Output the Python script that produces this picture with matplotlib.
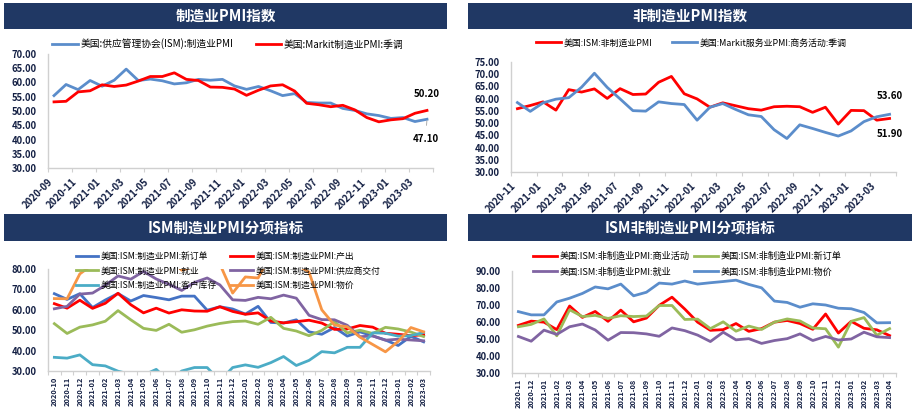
import matplotlib
matplotlib.use('Agg')
import matplotlib.pyplot as plt
from matplotlib.patches import Rectangle

plt.rcParams['font.family'] = ['Noto Sans CJK SC', 'DejaVu Sans']

# ---------------- data ----------------
# Panel 1: manufacturing PMI, 2020-09 .. 2023-04
p1_ticklabels = ['2020-09', '2020-11', '2021-01', '2021-03', '2021-05', '2021-07', '2021-09', '2021-11',
                 '2022-01', '2022-03', '2022-05', '2022-07', '2022-09', '2022-11', '2023-01', '2023-03']
ism_mfg = [55.4, 59.3, 57.5, 60.7, 58.7, 60.8, 64.7, 60.7, 61.2, 60.6, 59.5, 59.9, 61.1, 60.8, 61.1, 58.8,
           57.6, 58.6, 57.1, 55.4, 56.1, 53.0, 52.8, 52.8, 50.9, 50.2, 49.0, 48.4, 47.4, 47.7, 46.3, 47.1]
markit_mfg = [53.2, 53.4, 56.7, 57.1, 59.2, 58.6, 59.1, 60.5, 62.1, 62.1, 63.4, 61.1, 60.7, 58.4, 58.3, 57.7,
              55.5, 57.3, 58.8, 59.2, 57.0, 52.7, 52.2, 51.5, 52.0, 50.4, 47.7, 46.2, 46.9, 47.3, 49.2, 50.2]

# Panel 2: non-manufacturing PMI, 2020-11 .. 2023-04
p2_ticklabels = ['2020-11', '2021-01', '2021-03', '2021-05', '2021-07', '2021-09', '2021-11', '2022-01',
                 '2022-03', '2022-05', '2022-07', '2022-09', '2022-11', '2023-01', '2023-03']
ism_nonmfg = [55.9, 57.2, 58.7, 55.3, 63.7, 62.7, 64.0, 60.1, 64.1, 61.7, 61.9, 66.7, 69.1, 62.0, 59.9,
              56.5, 58.3, 57.1, 55.9, 55.3, 56.7, 56.9, 56.7, 54.4, 56.5, 49.6, 55.2, 55.1, 51.2, 51.9]
markit_svc = [58.4, 54.8, 58.3, 59.8, 60.4, 64.7, 70.4, 64.6, 59.9, 55.1, 54.9, 58.7, 58.0, 57.6, 51.2,
              56.5, 58.0, 55.6, 53.4, 52.7, 47.3, 43.7, 49.3, 47.8, 46.2, 44.7, 46.8, 50.6, 52.6, 53.6]

# Panel 3: ISM manufacturing sub-indices, 2020-10 .. 2023-03
p3_categories = ['2020-10', '2020-11', '2020-12', '2021-01', '2021-02', '2021-03', '2021-04', '2021-05',
                 '2021-06', '2021-07', '2021-08', '2021-09', '2021-10', '2021-11', '2021-12', '2022-01',
                 '2022-02', '2022-03', '2022-04', '2022-05', '2022-06', '2022-07', '2022-08', '2022-09',
                 '2022-10', '2022-11', '2022-12', '2023-01', '2023-02', '2023-03']
mfg_new_orders = [67.9, 65.1, 67.9, 61.1, 64.8, 68.0, 64.3, 67.0, 66.0, 64.9, 66.7, 66.7, 59.8, 61.5, 60.4,
                  57.9, 61.7, 53.8, 53.5, 55.1, 49.2, 48.0, 51.3, 47.1, 49.2, 47.2, 45.2, 42.5, 47.0, 44.3]
mfg_production = [63.0, 60.8, 64.7, 60.7, 63.2, 68.1, 62.5, 58.5, 60.8, 58.4, 60.0, 59.4, 59.3, 61.5, 59.2,
                  57.8, 58.5, 54.5, 53.6, 54.2, 54.9, 53.5, 50.4, 50.6, 52.3, 51.5, 48.5, 48.0, 47.3, 47.8]
mfg_employment = [53.2, 48.4, 51.5, 52.6, 54.4, 59.6, 55.1, 50.9, 49.9, 52.9, 49.0, 50.2, 52.0, 53.3, 54.2,
                  54.5, 52.9, 56.3, 50.9, 49.6, 47.3, 49.9, 54.2, 48.7, 50.0, 48.4, 51.4, 50.6, 49.1, 46.9]
mfg_supplier = [60.5, 61.7, 67.7, 68.2, 72.0, 76.6, 75.0, 78.8, 75.1, 72.5, 69.5, 73.4, 75.6, 72.2, 64.9,
                64.6, 66.1, 65.4, 67.2, 65.7, 57.3, 55.2, 55.1, 52.4, 46.8, 47.2, 45.1, 45.6, 45.2, 44.8]
mfg_cust_inv = [36.7, 36.3, 37.9, 33.1, 32.5, 29.9, 28.4, 28.0, 30.8, 25.0, 30.0, 31.7, 31.7, 25.1, 31.7,
                33.0, 31.8, 34.1, 37.1, 32.7, 35.2, 39.5, 38.9, 41.6, 41.6, 48.7, 48.5, 47.1, 47.3, 48.9]
mfg_prices = [65.5, 65.4, 77.6, 82.1, 86.0, 85.6, 89.6, 88.0, 92.1, 85.7, 79.4, 81.2, 85.7, 82.4, 68.2,
              76.1, 75.6, 87.1, 84.6, 82.2, 78.5, 60.0, 52.5, 51.7, 46.6, 43.0, 39.4, 44.5, 51.3, 49.2]

# Panel 4: ISM non-manufacturing sub-indices, 2020-11 .. 2023-04
p4_categories = ['2020-11', '2020-12', '2021-01', '2021-02', '2021-03', '2021-04', '2021-05', '2021-06',
                 '2021-07', '2021-08', '2021-09', '2021-10', '2021-11', '2021-12', '2022-01', '2022-02',
                 '2022-03', '2022-04', '2022-05', '2022-06', '2022-07', '2022-08', '2022-09', '2022-10',
                 '2022-11', '2022-12', '2023-01', '2023-02', '2023-03', '2023-04']
svc_activity = [58.0, 60.5, 59.9, 55.5, 69.4, 62.7, 66.2, 60.4, 67.0, 60.1, 62.3, 69.8, 74.6, 67.6, 59.9,
                55.1, 55.5, 59.1, 54.5, 56.1, 59.9, 60.9, 59.1, 55.7, 64.7, 53.5, 60.4, 56.3, 55.4, 52.0]
svc_new_orders = [57.2, 58.6, 61.8, 51.9, 67.2, 63.2, 63.9, 62.1, 63.7, 63.2, 63.5, 69.7, 69.7, 61.5, 61.7,
                  56.1, 60.1, 54.6, 57.6, 55.6, 59.9, 61.8, 60.6, 56.5, 56.0, 45.2, 60.4, 62.6, 52.2, 56.1]
svc_employment = [51.5, 48.7, 55.2, 52.7, 57.2, 58.8, 55.3, 49.3, 53.8, 53.7, 53.0, 51.6, 56.5, 54.9, 52.3,
                  48.5, 54.0, 49.5, 50.2, 47.4, 49.1, 50.2, 53.0, 49.1, 51.5, 49.4, 50.0, 54.0, 51.3, 50.8]
svc_prices = [66.1, 64.2, 64.2, 71.8, 74.0, 76.8, 80.6, 79.5, 82.3, 75.4, 77.5, 82.9, 82.3, 84.1, 82.3,
              83.1, 83.8, 84.6, 82.1, 80.1, 72.3, 71.5, 68.7, 70.7, 70.0, 68.1, 67.8, 65.6, 59.5, 59.6]

# ---------------- style ----------------
W, H = 916, 411
NAVY = '#203864'
TXT = '#142044'
AXC = '#D0D0D0'
BLUE_L = '#5B8DCB'
RED = '#FF0000'
BLUE_D = '#4472C4'
GREEN = '#9BBB59'
PURPLE = '#8064A2'
TEAL = '#4BACC6'
ORANGE = '#F79646'
LW = 2.0

fig = plt.figure(figsize=(W / 100, H / 100), dpi=100)


def rect(x0, y0, x1, y1):
    return [x0 / W, 1 - y1 / H, (x1 - x0) / W, (y1 - y0) / H]


def title_bar(x0, y0, x1, y1, text):
    fig.add_artist(Rectangle((x0 / W, 1 - y1 / H), (x1 - x0) / W, (y1 - y0) / H,
                             transform=fig.transFigure, facecolor=NAVY, edgecolor='none'))
    fig.text((x0 + x1) / 2 / W, 1 - (y0 + y1) / 2 / H, text, color='white', fontsize=10.5,
             fontweight='bold', ha='center', va='center')


def style_axes(ax, ylo, yhi, ystep):
    for s in ['top', 'right']:
        ax.spines[s].set_visible(False)
    for s in ['left', 'bottom']:
        ax.spines[s].set_color(AXC)
        ax.spines[s].set_linewidth(1.0)
    ax.set_ylim(ylo, yhi)
    yt = list(range(ylo, yhi + 1, ystep))
    ax.set_yticks(yt)
    ax.set_yticklabels(['%.2f' % v for v in yt], fontsize=6.8, fontweight='bold', color=TXT)
    ax.tick_params(axis='y', length=0, pad=8)
    ax.tick_params(axis='x', length=3, color=AXC, direction='out')
    ax.patch.set_alpha(0)


# ---------- Panel 1 ----------
title_bar(4, 3, 447, 29, '制造业PMI指数')
ax1 = fig.add_axes(rect(48, 54, 433, 168))
n1 = len(ism_mfg)
x1 = [i + 0.5 for i in range(n1)]
l1, = ax1.plot(x1, ism_mfg, color=BLUE_L, lw=LW, solid_joinstyle='round')
l2, = ax1.plot(x1, markit_mfg, color=RED, lw=LW, solid_joinstyle='round')
style_axes(ax1, 30, 70, 5)
ax1.set_xlim(0, n1)
ax1.set_xticks(range(0, n1 + 1, 2))
ax1.set_xticklabels(p1_ticklabels + [''], rotation=45, ha='right', rotation_mode='anchor',
                    fontsize=7, fontweight='bold', color=TXT)
ax1.annotate('%.2f' % markit_mfg[-1], (x1[-1], markit_mfg[-1]), xytext=(0, 12), textcoords='offset points',
             ha='center', va='center', fontsize=7, fontweight='bold', color='black')
ax1.annotate('%.2f' % ism_mfg[-1], (x1[-1], ism_mfg[-1]), xytext=(-1, -14), textcoords='offset points',
             ha='center', va='center', fontsize=7, fontweight='bold', color='black',
             arrowprops=dict(arrowstyle='-', color='#A0A0A0', lw=0.6, shrinkA=4, shrinkB=1))
fig.legend([l1, l2], ['美国:供应管理协会(ISM):制造业PMI', '美国:Markit制造业PMI:季调'],
           loc='center', bbox_to_anchor=(228 / W, 1 - 44 / H), ncol=2, frameon=False,
           fontsize=7.0, handlelength=2.6, handletextpad=0.3, columnspacing=2.3)

# ---------- Panel 2 ----------
title_bar(468, 3, 912, 29, '非制造业PMI指数')
ax2 = fig.add_axes(rect(511, 62, 896, 172))
n2 = len(ism_nonmfg)
x2 = [i + 0.5 for i in range(n2)]
m1, = ax2.plot(x2, ism_nonmfg, color=RED, lw=LW, solid_joinstyle='round')
m2, = ax2.plot(x2, markit_svc, color=BLUE_L, lw=LW, solid_joinstyle='round')
style_axes(ax2, 30, 75, 5)
ax2.set_xlim(0, n2)
ax2.set_xticks(range(0, n2 + 1, 2))
ax2.set_xticklabels(p2_ticklabels + [''], rotation=45, ha='right', rotation_mode='anchor',
                    fontsize=7, fontweight='bold', color=TXT)
ax2.annotate('%.2f' % markit_svc[-1], (x2[-1], markit_svc[-1]), xytext=(0, 13), textcoords='offset points',
             ha='center', va='center', fontsize=7, fontweight='bold', color='black')
ax2.annotate('%.2f' % ism_nonmfg[-1], (x2[-1], ism_nonmfg[-1]), xytext=(0, -11), textcoords='offset points',
             ha='center', va='center', fontsize=7, fontweight='bold', color='black')
fig.legend([m1, m2], ['美国:ISM:非制造业PMI', '美国:Markit服务业PMI:商务活动:季调'],
           loc='center', bbox_to_anchor=(691 / W, 1 - 43 / H), ncol=2, frameon=False,
           fontsize=6.4, handlelength=2.8, handletextpad=0.3, columnspacing=2.2)

# ---------- Panel 3 ----------
title_bar(4, 214, 447, 241, 'ISM制造业PMI分项指标')
ax3 = fig.add_axes(rect(48, 269, 430, 371))
n3 = len(p3_categories)
x3 = [i + 0.5 for i in range(n3)]
h_no, = ax3.plot(x3, mfg_new_orders, color=BLUE_D, lw=LW)
h_pr, = ax3.plot(x3, mfg_production, color=RED, lw=LW)
h_em, = ax3.plot(x3, mfg_employment, color=GREEN, lw=LW)
h_su, = ax3.plot(x3, mfg_supplier, color=PURPLE, lw=LW)
h_ci, = ax3.plot(x3, mfg_cust_inv, color=TEAL, lw=LW)
h_pc, = ax3.plot(x3, mfg_prices, color=ORANGE, lw=LW)
style_axes(ax3, 30, 80, 10)
ax3.set_xlim(0, n3)
ax3.set_xticks(range(0, n3 + 1))
ax3.set_xticklabels([])
ax3.set_xticks(x3, minor=True)
ax3.set_xticklabels(p3_categories, minor=True, rotation=90, fontsize=5.3, fontweight='bold', color=TXT)
ax3.tick_params(axis='x', which='minor', length=0, pad=4)
ax3.legend([h_no, h_em, h_ci, h_pr, h_su, h_pc],
           ['美国:ISM:制造业PMI:新订单', '美国:ISM:制造业PMI:就业', '美国:ISM:制造业PMI:客户库存',
            '美国:ISM:制造业PMI:产出', '美国:ISM:制造业PMI:供应商交付', '美国:ISM:制造业PMI:物价'],
           loc='center', bbox_to_anchor=(228 / W, 1 - 271 / H), bbox_transform=fig.transFigure,
           ncol=2, frameon=False, fontsize=6.3, handlelength=2.6, handletextpad=0.3,
           columnspacing=1.5, labelspacing=0.6)

# ---------- Panel 4 ----------
title_bar(468, 214, 912, 241, 'ISM非制造业PMI分项指标')
ax4 = fig.add_axes(rect(512, 271, 896, 373))
n4 = len(p4_categories)
x4 = [i + 0.5 for i in range(n4)]
k_ac, = ax4.plot(x4, svc_activity, color=RED, lw=LW)
k_no, = ax4.plot(x4, svc_new_orders, color=GREEN, lw=LW)
k_em, = ax4.plot(x4, svc_employment, color=PURPLE, lw=LW)
k_pc, = ax4.plot(x4, svc_prices, color=BLUE_L, lw=LW)
style_axes(ax4, 30, 90, 10)
ax4.set_xlim(0, n4)
ax4.set_xticks(range(0, n4 + 1))
ax4.set_xticklabels([])
ax4.set_xticks(x4, minor=True)
ax4.set_xticklabels(p4_categories, minor=True, rotation=90, fontsize=5.3, fontweight='bold', color=TXT)
ax4.tick_params(axis='x', which='minor', length=0, pad=4)
fig.legend([k_ac, k_em, k_no, k_pc],
           ['美国:ISM:非制造业PMI:商业活动', '美国:ISM:非制造业PMI:就业',
            '美国:ISM:非制造业PMI:新订单', '美国:ISM:非制造业PMI:物价'],
           loc='center', bbox_to_anchor=(687 / W, 1 - 264 / H), ncol=2, frameon=False,
           fontsize=6.6, handlelength=2.6, handletextpad=0.3, columnspacing=0.5, labelspacing=0.7)

fig.savefig('out.png', dpi=100)
